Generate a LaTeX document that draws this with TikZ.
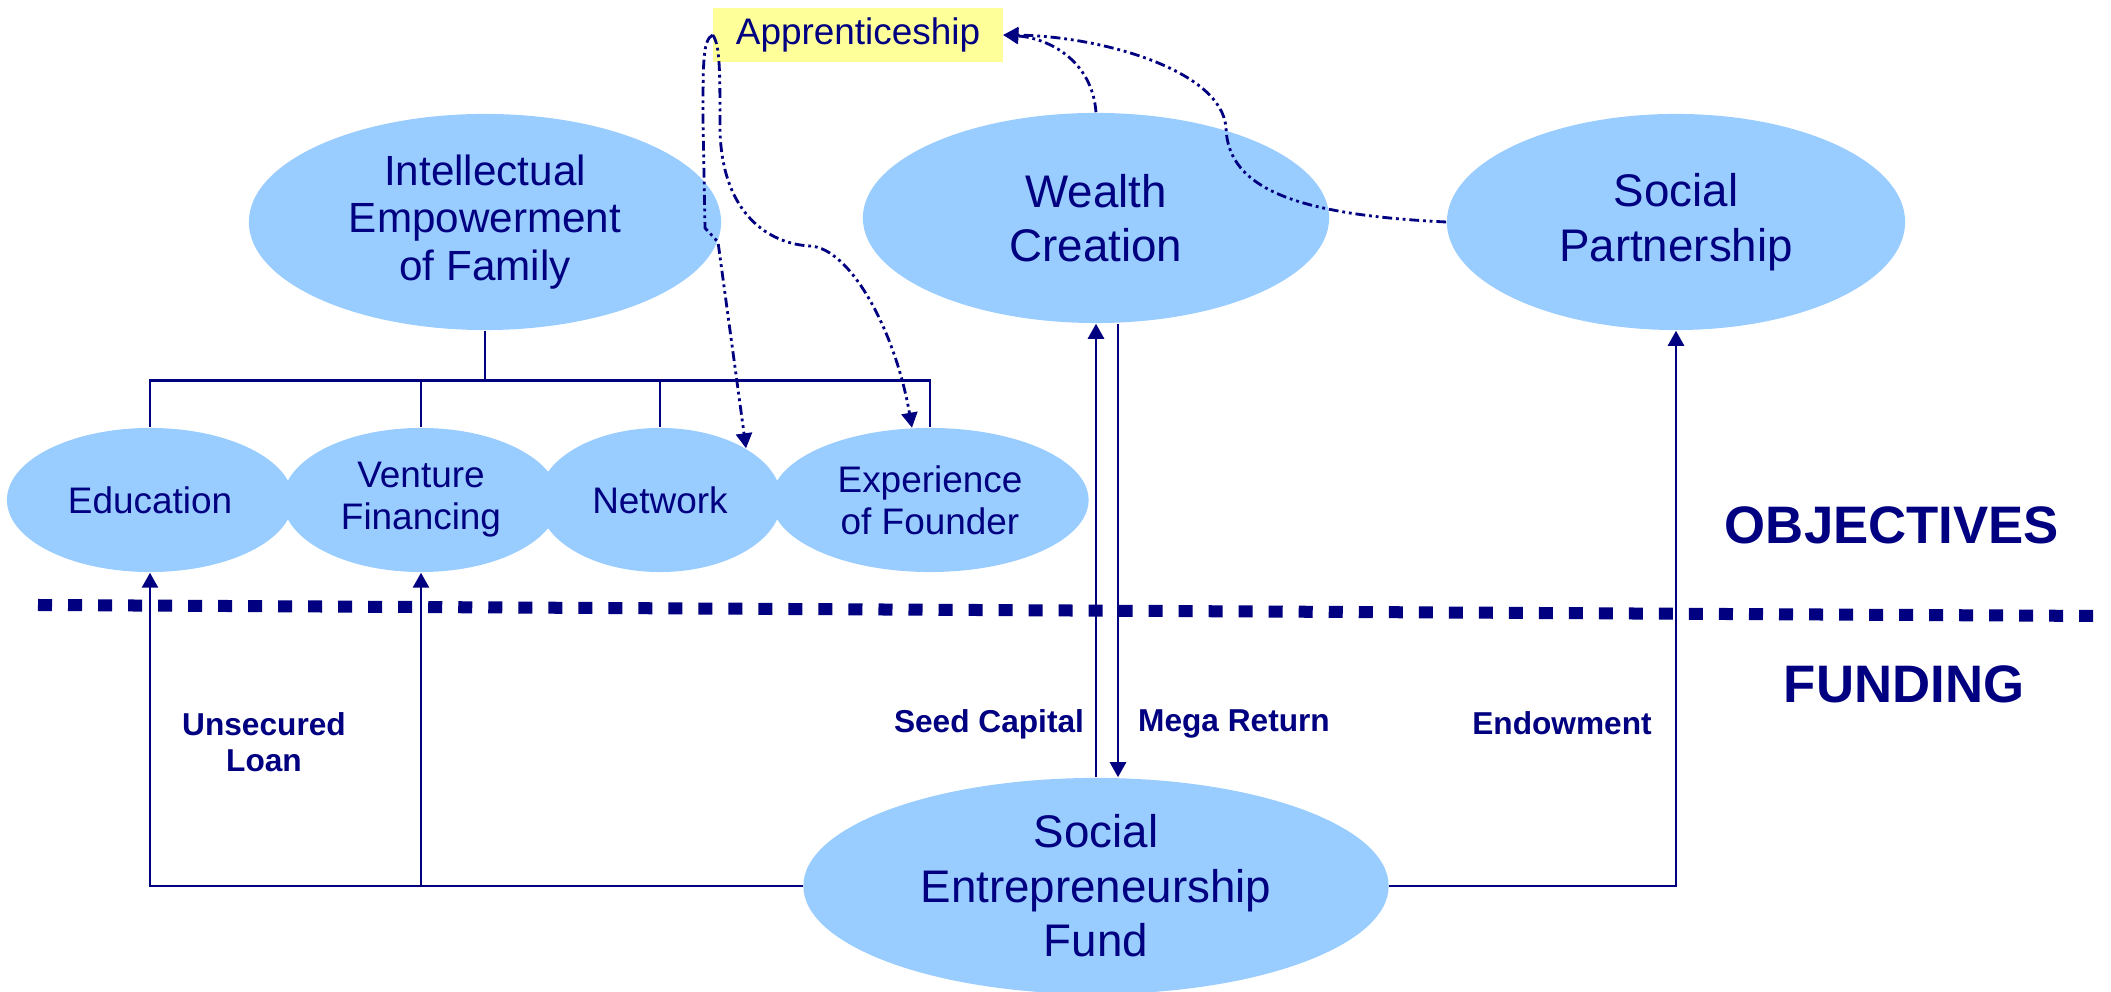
\documentclass[tikz,border=0pt]{standalone}
\usepackage{fontspec}
\setmainfont{Liberation Sans}
\usetikzlibrary{shapes.geometric,arrows.meta}
\definecolor{navy}{HTML}{000080}
\definecolor{skyfill}{HTML}{99CCFF}
\definecolor{paleyellow}{HTML}{FFFF99}

\begin{document}
\begin{tikzpicture}[x=0.01cm,y=-0.01cm,
    goal/.style={ellipse,fill=skyfill,inner sep=0pt,text=navy,align=center},
    biggoal/.style={goal,font=\fontsize{13}{15.5}\selectfont},
    subgoal/.style={goal,minimum height=1.44cm,font=\fontsize{10.5}{12}\selectfont},
    tag/.style={text=navy,align=center,font=\bfseries\fontsize{9}{10.3}\selectfont},
    side/.style={text=navy,font=\bfseries\fontsize{15}{18}\selectfont},
    wire/.style={navy,line width=0.75pt},
    arrowwire/.style={wire,-{Triangle[width=0.16cm,length=0.15cm]}},
    flow/.style={arrowwire,line width=0.8pt,dash pattern=on 2.8pt off 1.1pt on 0.8pt off 1.1pt on 0.8pt off 1.1pt}]
    \useasboundingbox (0,0) rectangle (2111,992);
    %objectives
    \node[biggoal,minimum width=4.72cm,minimum height=2.16cm,font=\fontsize{12}{13.4}\selectfont] (intel) at (485,222) {Intellectual\\Empowerment\\of Family};
    \node[biggoal,minimum width=4.66cm,minimum height=2.10cm] (wealth) at (1096,218) {Wealth\\Creation};
    \node[biggoal,minimum width=4.58cm,minimum height=2.16cm] (social) at (1676,222) {Social\\Partnership};
    \node[subgoal,minimum width=2.86cm] (edu) at (150,500) {Education};
    \node[subgoal,minimum width=2.76cm] (venture) at (421,500) {Venture\\Financing};
    \node[subgoal,minimum width=2.43cm] (network) at (660,500) {Network};
    \node[subgoal,minimum width=3.17cm] (exper) at (930,500) {Experience\\of Founder};
    \node[fill=paleyellow,text=navy,inner sep=0pt,minimum width=2.89cm,minimum height=0.53cm,font=\fontsize{10.5}{12}\selectfont] (appr) at (858,35) {Apprenticeship};
    %funding
    \node[biggoal,minimum width=5.85cm,minimum height=2.16cm] (fund) at (1096,886) {Social\\Entrepreneurship\\Fund};
    %separator
    \draw[navy,line width=0.12cm,dash pattern=on 0.14cm off 0.16cm] (38,605) -- (2100,616);
    \node[side] (objlbl) at (1892,525) {OBJECTIVES};
    \node[side] (fundlbl) at (1904,684) {FUNDING};
    %bracket under the family goal
    \draw[wire] (intel.south) -- ++(0,50) coordinate (bus);
    \foreach \n in {edu,venture,network,exper}
        \draw[wire] (bus) -| (\n.north);
    %money flows
    \draw[arrowwire] (fund.north) -- (wealth.south);
    \draw[arrowwire] ([xshift=0.22cm]wealth.south) -- ([xshift=0.22cm]fund.north);
    \draw[arrowwire] (fund.east) -| (social.south);
    \draw[arrowwire] (fund.west) -| (edu.south);
    \draw[arrowwire] (fund.west) -| (venture.south);
    \node[tag] (unsec) at (264,742) {Unsecured\\Loan};
    \node[tag] (seed) at (989,724) {Seed Capital};
    \node[tag] (mega) at (1234,724) {Mega Return};
    \node[tag] (endow) at (1562,723) {Endowment};
    %apprenticeship links
    \draw[flow] (wealth.north) .. controls (1092,60) and (1048,38) .. (appr.east);
    \draw[flow] (social.west) .. controls (1300,215) and (1228,190) .. (1226,128) .. controls (1222,70) and (1100,36) .. (appr.east);
    \draw[flow] (appr.west) .. controls (703,40) and (703,60) .. (703,120) -- (705,228) -- (718,242) -- (network.31);
    \draw[flow] (appr.west) .. controls (720,45) and (720,70) .. (720,130) .. controls (722,215) and (770,244) .. (810,246) .. controls (850,248) and (895,330) .. (exper.104);
\end{tikzpicture}
\end{document}
